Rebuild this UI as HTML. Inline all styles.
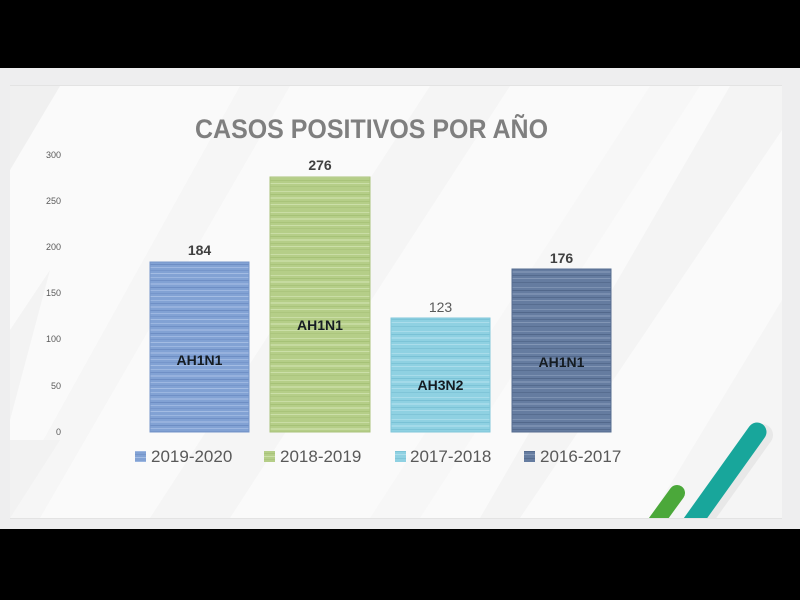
<!DOCTYPE html>
<html>
<head>
<meta charset="utf-8">
<style>
html,body{margin:0;padding:0;background:#000;}
svg{display:block;}
</style>
</head>
<body>
<svg width="800" height="600" viewBox="0 0 800 600" xmlns="http://www.w3.org/2000/svg">
  <defs>
    <pattern id="pBlue" patternUnits="userSpaceOnUse" width="10" height="23">
      <rect width="10" height="23" fill="#82a2d4"/>
      <rect y="1" width="10" height="1" fill="#9bb6e0"/>
      <rect y="4" width="10" height="1" fill="#7090c6"/>
      <rect y="7" width="10" height="2" fill="#96b1dd"/>
      <rect y="11" width="10" height="1" fill="#6e8ec4"/>
      <rect y="14" width="10" height="1" fill="#9db7e1"/>
      <rect y="17" width="10" height="1" fill="#7696cb"/>
      <rect y="20" width="10" height="1" fill="#a3bce3"/>
    </pattern>
    <pattern id="pGreen" patternUnits="userSpaceOnUse" width="10" height="21">
      <rect width="10" height="21" fill="#b5ce88"/>
      <rect y="2" width="10" height="1" fill="#c9dda5"/>
      <rect y="5" width="10" height="1" fill="#a6c277"/>
      <rect y="8" width="10" height="2" fill="#c5da9f"/>
      <rect y="12" width="10" height="1" fill="#a9c47a"/>
      <rect y="15" width="10" height="1" fill="#cbdfa8"/>
      <rect y="18" width="10" height="1" fill="#acc67e"/>
    </pattern>
    <pattern id="pCyan" patternUnits="userSpaceOnUse" width="10" height="22">
      <rect width="10" height="22" fill="#8fd1e2"/>
      <rect y="1" width="10" height="1" fill="#a8dcea"/>
      <rect y="4" width="10" height="1" fill="#7ac2d6"/>
      <rect y="7" width="10" height="2" fill="#a3dae9"/>
      <rect y="11" width="10" height="1" fill="#7dc4d7"/>
      <rect y="14" width="10" height="1" fill="#abddeb"/>
      <rect y="18" width="10" height="1" fill="#80c5d8"/>
    </pattern>
    <pattern id="pDark" patternUnits="userSpaceOnUse" width="10" height="22">
      <rect width="10" height="22" fill="#657ca0"/>
      <rect y="1" width="10" height="1" fill="#7d92b2"/>
      <rect y="4" width="10" height="1" fill="#52688b"/>
      <rect y="7" width="10" height="2" fill="#798eaf"/>
      <rect y="11" width="10" height="1" fill="#556b8e"/>
      <rect y="14" width="10" height="1" fill="#8296b5"/>
      <rect y="18" width="10" height="1" fill="#576d90"/>
    </pattern>
    <clipPath id="cardClip">
      <rect x="10" y="86" width="772" height="432"/>
    </clipPath>
  </defs>

  <rect x="0" y="0" width="800" height="600" fill="#000"/>
  <rect x="0" y="68" width="800" height="461" fill="#eeeeef"/>
  <rect x="10" y="85" width="772" height="434" fill="#e3e3e3"/>
  <rect x="10" y="86" width="772" height="432" fill="#fafafa"/>

  <g clip-path="url(#cardClip)">
    <polygon points="10,86 60,86 10,170" fill="#f0f0f0"/>
    <polygon points="10,330 50,270 10,420" fill="#f3f3f3"/>
    <polygon points="240,86 290,86 40,518 0,518" fill="#f6f6f6"/>
    <polygon points="430,86 510,86 230,518 150,518" fill="#f5f5f5"/>
    <polygon points="650,86 700,86 420,518 370,518" fill="#f7f7f7"/>
    <polygon points="730,86 782,86 782,130 520,518 480,518" fill="#f4f4f4"/>
    <polygon points="782,300 782,518 650,518" fill="#f5f5f5"/>
    <polygon points="10,440 60,440 10,518" fill="#f2f2f2"/>

    <line x1="758" y1="432" x2="688" y2="530" stroke="#e8e8e8" stroke-width="22" stroke-linecap="round" transform="translate(4,3)"/>
    <line x1="757" y1="432" x2="687" y2="530" stroke="#18a69b" stroke-width="19" stroke-linecap="round"/>
    <line x1="677" y1="493" x2="645" y2="537" stroke="#4ba83a" stroke-width="16" stroke-linecap="round"/>
  </g>

  <text x="195" y="138" font-family="Liberation Sans, Arial, sans-serif" font-weight="bold" font-size="27" fill="#7f7f7f" textLength="353" lengthAdjust="spacingAndGlyphs">CASOS POSITIVOS POR AÑO</text>

  <g font-family="Liberation Sans, Arial, sans-serif" font-size="9" fill="#595959" text-anchor="end">
    <text x="61" y="158">300</text>
    <text x="61" y="204">250</text>
    <text x="61" y="250">200</text>
    <text x="61" y="296">150</text>
    <text x="61" y="342">100</text>
    <text x="61" y="389">50</text>
    <text x="61" y="435">0</text>
  </g>

  <rect x="150" y="262" width="99" height="170" fill="url(#pBlue)" stroke="#7696ca" stroke-width="1"/>
  <rect x="270" y="177" width="100" height="255" fill="url(#pGreen)" stroke="#a9c37b" stroke-width="1"/>
  <rect x="391" y="318" width="99" height="114" fill="url(#pCyan)" stroke="#80c7da" stroke-width="1"/>
  <rect x="512" y="269" width="99" height="163" fill="url(#pDark)" stroke="#576d90" stroke-width="1"/>

  <g font-family="Liberation Sans, Arial, sans-serif" font-size="14" text-anchor="middle">
    <text x="199.5" y="255" font-weight="bold" fill="#404040">184</text>
    <text x="320" y="170" font-weight="bold" fill="#404040">276</text>
    <text x="440.5" y="312" fill="#595959">123</text>
    <text x="561.5" y="263" font-weight="bold" fill="#404040">176</text>
  </g>

  <g font-family="Liberation Sans, Arial, sans-serif" font-size="14" font-weight="bold" fill="#151c22" text-anchor="middle">
    <text x="199.5" y="365">AH1N1</text>
    <text x="320" y="330">AH1N1</text>
    <text x="440.5" y="390">AH3N2</text>
    <text x="561.5" y="367">AH1N1</text>
  </g>

  <rect x="135" y="451" width="11" height="11" fill="url(#pBlue)"/>
  <rect x="264" y="451" width="11" height="11" fill="url(#pGreen)"/>
  <rect x="395" y="451" width="11" height="11" fill="url(#pCyan)"/>
  <rect x="524" y="451" width="11" height="11" fill="url(#pDark)"/>
  <g font-family="Liberation Sans, Arial, sans-serif" font-size="17" fill="#595959">
    <text x="151" y="462">2019-2020</text>
    <text x="280" y="462">2018-2019</text>
    <text x="410" y="462">2017-2018</text>
    <text x="540" y="462">2016-2017</text>
  </g>
</svg>
</body>
</html>
